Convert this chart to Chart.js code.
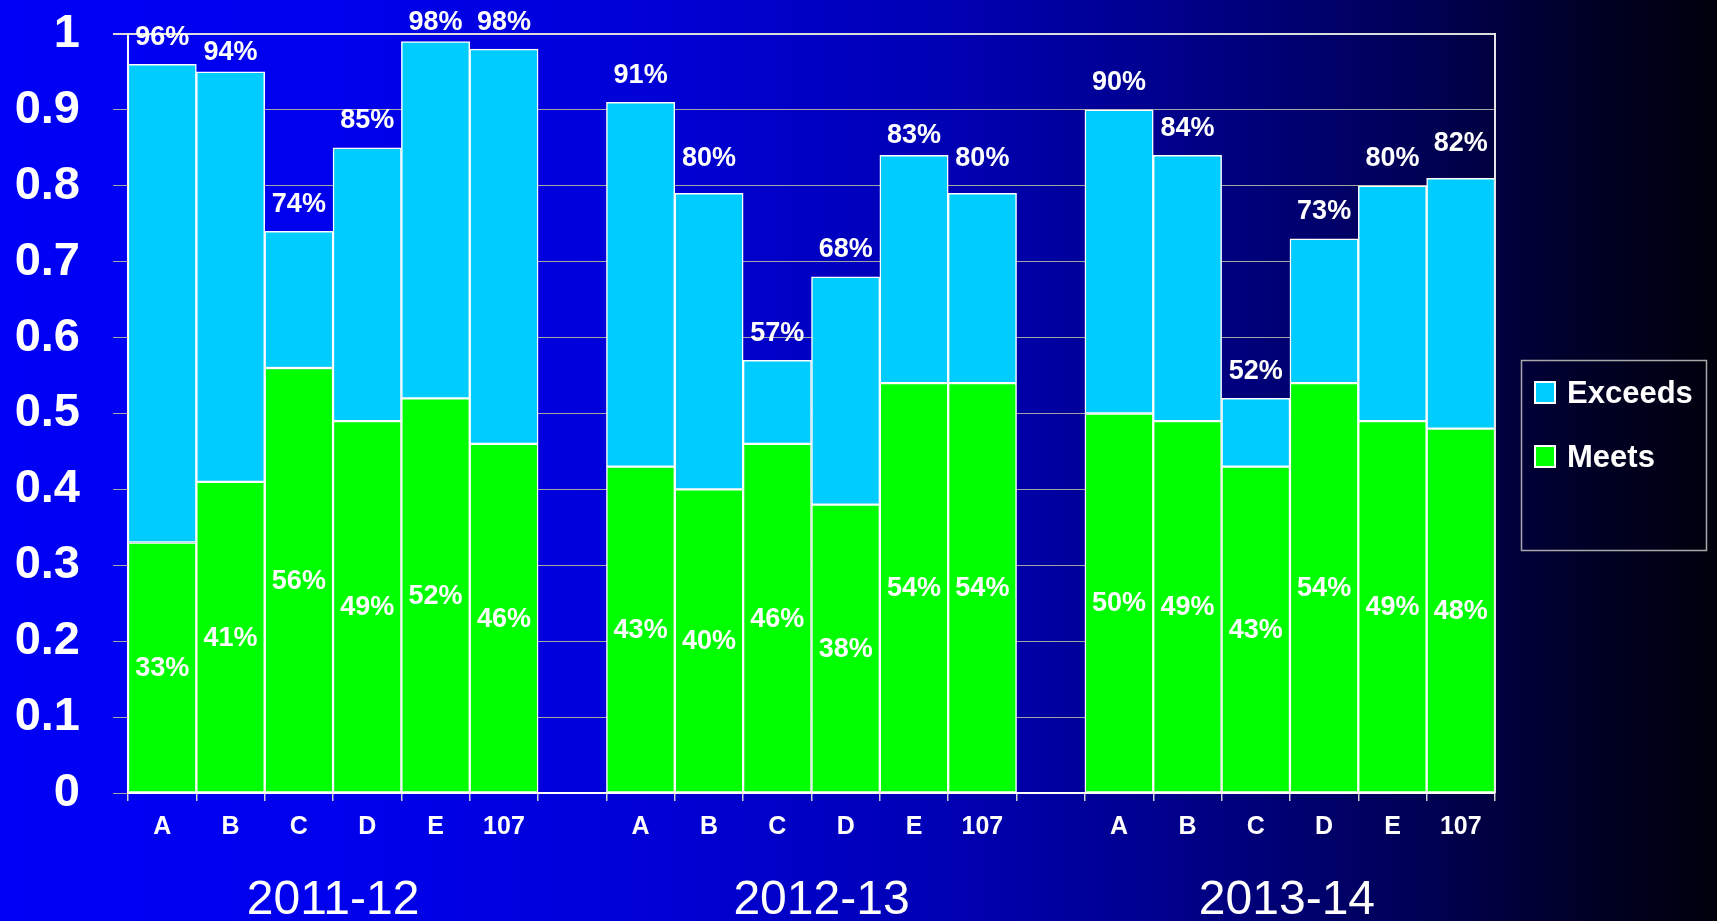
<!DOCTYPE html>
<html><head><meta charset="utf-8">
<script src="https://cdn.jsdelivr.net/npm/chart.js@4.4.1/dist/chart.umd.min.js"></script>
<style>
html,body{margin:0;padding:0;width:1717px;height:921px;overflow:hidden;
background:linear-gradient(to right,#0000f6 0%,#0000ec 20%,#0000d6 38%,#0000b4 55%,#00008c 68%,#000058 82%,#000028 92%,#00000c 100%);}
#wrap{width:1717px;height:921px;position:relative}
</style></head><body><div id="wrap"><canvas id="c" width="1717" height="921"></canvas></div>
<script>
const categories = ['A','B','C','D','E','107','', 'A','B','C','D','E','107','', 'A','B','C','D','E','107'];
const groups = ['2011-12','2012-13','2013-14'];
const groupRanges = [[0,5],[7,12],[14,19]];
const seriesNames = ['Meets','Exceeds'];
const meets   = [0.33,0.41,0.56,0.49,0.52,0.46,null, 0.43,0.40,0.46,0.38,0.54,0.54,null, 0.50,0.49,0.43,0.54,0.49,0.48];
const exceeds = [0.63,0.54,0.18,0.36,0.47,0.52,null, 0.48,0.39,0.11,0.30,0.30,0.25,null, 0.40,0.35,0.09,0.19,0.31,0.33];
const totalLabels = [96,94,74,85,98,98,null, 91,80,57,68,83,80,null, 90,84,52,73,80,82];
const yTickLabels = ['0','0.1','0.2','0.3','0.4','0.5','0.6','0.7','0.8','0.9','1'];
const colors = {Meets:'#00ff00', Exceeds:'#00ccff'};

const FONT = '"Liberation Sans", Arial, Helvetica, sans-serif';
Chart.defaults.font.family = FONT;
Chart.defaults.color = '#ffffff';

const groupShift = [0, 10, -3];

const extras = {
  id:'extras',
  afterDatasetsDraw(chart){
    const ctx = chart.ctx, xs = chart.scales.x, ys = chart.scales.y, a = chart.chartArea;
    ctx.save();
    ctx.strokeStyle = '#e6e6e6'; ctx.lineWidth = 2;
    ctx.beginPath(); ctx.moveTo(a.right, a.top - 1); ctx.lineTo(a.right, a.bottom); ctx.stroke();
    ctx.fillStyle = '#ffffff'; ctx.textAlign = 'center'; ctx.textBaseline = 'middle';
    ctx.font = 'bold 27px ' + FONT;
    const mMeta = chart.getDatasetMeta(0);
    mMeta.data.forEach((bar, i) => {
      if (meets[i] == null) return;
      ctx.fillText(Math.round(meets[i]*100) + '%', bar.x, (bar.y + bar.base)/2 + 1);
    });
    totalLabels.forEach((t, i) => {
      if (t == null) return;
      ctx.fillText(t + '%', xs.getPixelForValue(i), ys.getPixelForValue(t/100) - 27);
    });
    ctx.font = '48px ' + FONT;
    groups.forEach((g, k) => {
      const cx = (xs.getPixelForValue(groupRanges[k][0]) + xs.getPixelForValue(groupRanges[k][1]))/2 + groupShift[k];
      ctx.fillText(g, cx, 901);
    });
    ctx.strokeStyle = '#a8a8a8'; ctx.lineWidth = 1.5;
    ctx.strokeRect(1521.5, 360.5, 185, 190);
    ['Exceeds','Meets'].forEach((name, k) => {
      const cy = 393 + k*64;
      ctx.fillStyle = colors[name];
      ctx.fillRect(1535, cy - 11, 20, 21);
      ctx.strokeStyle = '#ffffff'; ctx.lineWidth = 2;
      ctx.strokeRect(1535, cy - 11, 20, 21);
      ctx.fillStyle = '#ffffff'; ctx.textAlign = 'left';
      ctx.font = 'bold 31px ' + FONT;
      ctx.fillText(name, 1567, cy + 1);
    });
    ctx.restore();
  }
};

new Chart(document.getElementById('c'), {
  type:'bar',
  data:{
    labels: categories,
    datasets:[
      {label:seriesNames[0], data:meets, backgroundColor:colors.Meets, borderColor:'#ffffff', borderWidth:1.5, borderSkipped:false},
      {label:seriesNames[1], data:exceeds, backgroundColor:colors.Exceeds, borderColor:'#ffffff', borderWidth:1.5, borderSkipped:false}
    ]
  },
  options:{
    responsive:false, animation:false,
    layout:{padding:{top:34, right:222, bottom:0, left:0}},
    plugins:{legend:{display:false}, tooltip:{enabled:false}},
    datasets:{bar:{barPercentage:1, categoryPercentage:1}},
    scales:{
      x:{
        stacked:true, offset:true,
        grid:{offset:true, drawOnChartArea:false, drawTicks:true, tickLength:8, color:'#d0d0d0', lineWidth:1.5},
        border:{color:'#ffffff', width:2},
        ticks:{color:'#ffffff', font:{size:25, weight:'bold'}, padding:11, maxRotation:0, autoSkip:false},
        afterFit(s){ s.height = 128; s.paddingLeft = 0; s.paddingRight = 0; }
      },
      y:{
        stacked:true, min:0, max:1,
        grid:{
          color: c => c.tick && c.tick.value >= 0.999 ? '#dcdcdc' : '#a4a4a4',
          lineWidth: c => c.tick && c.tick.value >= 0.999 ? 2 : 1,
          tickLength:15
        },
        border:{color:'#ffffff', width:2},
        ticks:{stepSize:0.1, color:'#ffffff', font:{size:47, weight:'bold'}, padding:33,
          callback:(v, i) => yTickLabels[i]},
        afterFit(s){ s.width = 128; s.paddingTop = 0; s.paddingBottom = 0; }
      }
    }
  },
  plugins:[extras]
});
</script></body></html>
